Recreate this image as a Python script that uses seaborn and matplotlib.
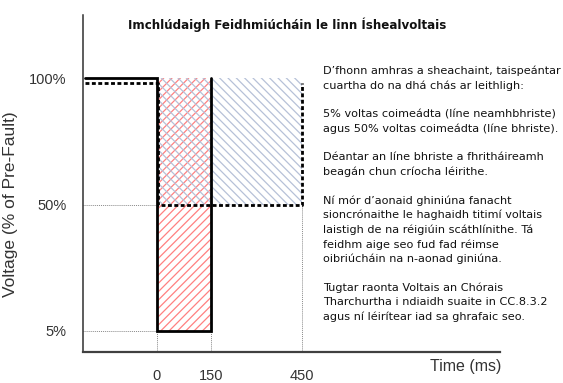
import numpy as np
import matplotlib
matplotlib.use("Agg")
import matplotlib.pyplot as plt
import seaborn as sns

# --- data -------------------------------------------------------------
time_ticks = [0, 150, 450]                  # ms
volt_ticks = [5, 50, 100]                   # % of pre-fault
volt_tick_labels = ["5%", "50%", "100%"]
time_tick_labels = ["0", "150", "450"]

# 5% retained voltage envelope (solid)
solid_time = [-200, 0, 0, 150, 150]
solid_volt = [100, 100, 5, 5, 100]

# 50% retained voltage envelope (dashed, drawn slightly offset)
dash_time = [-200, 4, 4, 450, 450]
dash_volt = [98, 98, 50, 50, 98]

# shaded regions: (t0, t1, v0, v1)
red_region = (0, 150, 5, 100)
blue_region = (0, 450, 50, 100)

title = "Imchlúdaigh Feidhmiúcháin le linn Íshealvoltais"
note = ("D\u2019fhonn amhras a sheachaint, taispeántar\n"
        "cuartha do na dhá chás ar leithligh:\n"
        "\n"
        "5% voltas coimeádta (líne neamhbhriste)\n"
        "agus 50% voltas coimeádta (líne bhriste).\n"
        "\n"
        "Déantar an líne bhriste a fhritháireamh\n"
        "beagán chun críocha léirithe.\n"
        "\n"
        "Ní mór d\u2019aonaid ghiniúna fanacht\n"
        "sioncrónaithe le haghaidh titimí voltais\n"
        "laistigh de na réigiúin scáthlínithe. Tá\n"
        "feidhm aige seo fud fad réimse\n"
        "oibriúcháin na n-aonad giniúna.\n"
        "\n"
        "Tugtar raonta Voltais an Chórais\n"
        "Tharchurtha i ndiaidh suaite in CC.8.3.2\n"
        "agus ní léirítear iad sa ghrafaic seo.")

# --- schematic (piecewise linear) axis scales -------------------------
def piecewise(knots_in, knots_out):
    ki = np.asarray(knots_in, float)
    ko = np.asarray(knots_out, float)
    s0 = (ko[1] - ko[0]) / (ki[1] - ki[0])
    s1 = (ko[-1] - ko[-2]) / (ki[-1] - ki[-2])
    big = 1e6
    ki = np.concatenate([[ki[0] - big], ki, [ki[-1] + big]])
    ko = np.concatenate([[ko[0] - big * s0], ko, [ko[-1] + big * s1]])

    def fwd(v):
        return np.interp(np.asarray(v, float), ki, ko)

    def inv(v):
        return np.interp(np.asarray(v, float), ko, ki)
    return fwd, inv

x_fwd, x_inv = piecewise(time_ticks, [0, 54, 145])
y_fwd, y_inv = piecewise(volt_ticks, [0, 126.5, 253])

sns.set_style("white")
plt.rcParams["font.family"] = ["DejaVu Sans"]
plt.rcParams["hatch.linewidth"] = 0.9

fig = plt.figure(figsize=(5.63, 3.83), dpi=100)
ax = fig.add_axes([83 / 563, 31 / 383, 417 / 563, 337 / 383])
ax.set_xscale("function", functions=(x_fwd, x_inv))
ax.set_yscale("function", functions=(y_fwd, y_inv))
ax.set_xlim(-205, 1103)
ax.set_ylim(-2.5, 125)

# hatched regions
t0, t1, v0, v1 = red_region
ax.fill_between([t0, t1], v0, v1, facecolor="none", edgecolor="#ff8080",
                hatch="////", linewidth=0, zorder=1)
t0, t1, v0, v1 = blue_region
ax.fill_between([t0, t1], v0, v1, facecolor="none", edgecolor="#b6c1d8",
                hatch="\\\\\\\\", linewidth=0, zorder=1)

# dotted guide lines
guide = dict(color="#8a8a8a", linestyle=(0, (1, 1)), linewidth=0.7, zorder=2)
ymin, xmin = ax.get_ylim()[0], ax.get_xlim()[0]
ax.hlines(volt_ticks[1], xmin, time_ticks[0], **guide)
ax.hlines(volt_ticks[0], xmin, time_ticks[0], **guide)
ax.vlines(time_ticks[0], ymin, volt_ticks[0], **guide)
ax.vlines(time_ticks[1], ymin, volt_ticks[0], **guide)
ax.vlines(time_ticks[2], ymin, volt_ticks[1], **guide)

# envelopes
sns.lineplot(x=solid_time, y=solid_volt, sort=False, estimator=None,
             color="black", linewidth=2.0, ax=ax, zorder=4,
             solid_joinstyle="miter")
sns.lineplot(x=dash_time, y=dash_volt, sort=False, estimator=None,
             color="black", linewidth=2.0, ax=ax, zorder=3,
             linestyle=(0, (1.4, 0.9)))

# axes styling
for side in ("top", "right"):
    ax.spines[side].set_visible(False)
ax.spines["left"].set_color("#303030")
ax.spines["left"].set_linewidth(1.1)
ax.spines["bottom"].set_color("#404040")
ax.spines["bottom"].set_linewidth(1.6)

ax.set_xticks(time_ticks)
ax.set_xticklabels(time_tick_labels)
ax.set_yticks(volt_ticks)
ax.set_yticklabels(volt_tick_labels)
ax.tick_params(axis="both", length=0, colors="#333333")
ax.tick_params(axis="x", pad=12)
ax.tick_params(axis="y", pad=12)
for lab in ax.get_xticklabels() + ax.get_yticklabels():
    lab.set_family("Liberation Sans")
    lab.set_fontsize(10.5)
ax.set_xlabel("")
ax.set_ylabel("Voltage (% of Pre-Fault)", family="Liberation Sans",
              fontsize=12.5, color="#333333")
ax.yaxis.set_label_coords((18 - 83) / 417, (352 - 204) / 337)

fig.text(287 / 563, 1 - 25 / 383, title, ha="center", va="center",
         fontsize=8.6, fontweight="bold", color="#111111")
fig.text(466 / 563, 1 - 366 / 383, "Time (ms)", ha="center", va="center",
         family="Liberation Sans", fontsize=11.5, color="#333333")
fig.text(323 / 563, 1 - 66 / 383, note, ha="left", va="top",
         fontsize=8.1, color="#111111", linespacing=1.5)

fig.savefig("out.png", dpi=100)
